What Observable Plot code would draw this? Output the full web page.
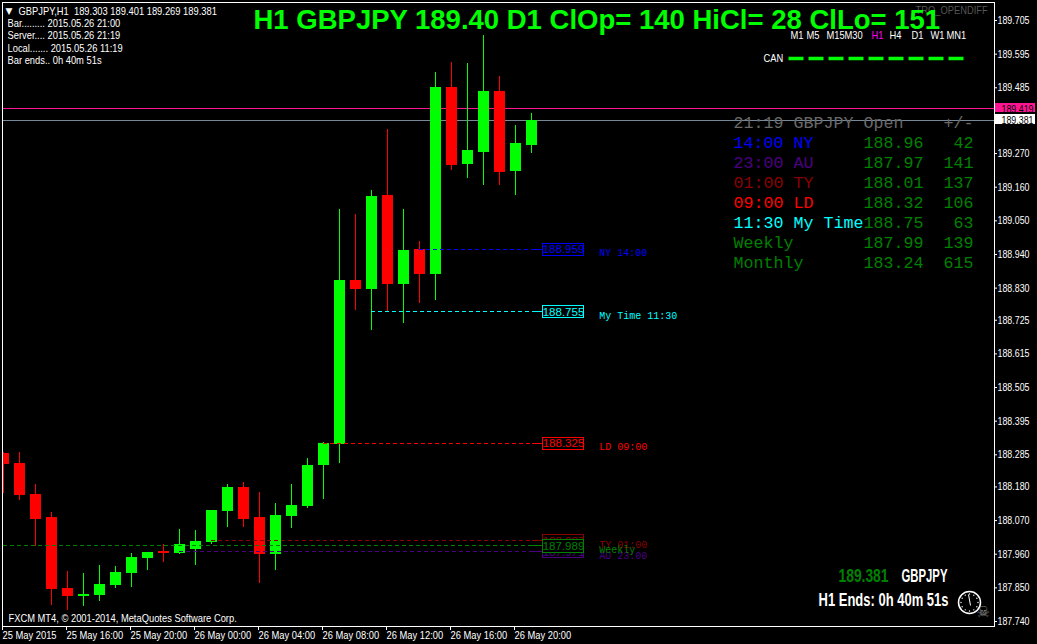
<!DOCTYPE html>
<html><head><meta charset="utf-8">
<script src="https://cdn.jsdelivr.net/npm/d3@7"></script>
<script src="https://cdn.jsdelivr.net/npm/@observablehq/plot@0.6"></script>
<style>html,body{margin:0;padding:0;background:#000;overflow:hidden}svg{display:block}</style>
</head><body><div id="chart"></div>
<script>
// candles, one bar per hour
const opens  = [188.289,188.256,188.155,188.080,187.848,187.822,187.825,187.858,187.897,187.946,187.969,187.962,187.975,187.998,188.100,188.178,188.080,187.959,188.083,188.116,188.250,188.319,188.855,188.825,189.133,188.842,188.956,188.874,189.486,189.234,189.273,189.473,189.211,189.297];
const highs  = [188.292,188.292,188.188,188.096,187.903,187.897,187.923,187.920,187.962,187.965,187.992,188.041,188.037,188.103,188.188,188.194,188.162,188.126,188.188,188.273,188.325,189.087,189.070,189.149,189.348,189.087,188.982,189.535,189.568,189.564,189.656,189.522,189.361,189.401];
const lows   = [188.158,188.135,187.985,187.792,187.776,187.789,187.805,187.848,187.851,187.907,187.933,187.959,187.923,187.992,188.047,188.047,187.864,187.907,188.044,188.109,188.139,188.256,188.757,188.691,188.753,188.714,188.779,188.789,189.214,189.188,189.165,189.165,189.133,189.269];
const closes = [188.253,188.152,188.073,187.845,187.822,187.828,187.861,187.900,187.949,187.965,187.962,187.992,188.001,188.103,188.178,188.073,187.959,188.086,188.119,188.250,188.322,188.855,188.825,189.129,188.842,188.953,188.874,189.486,189.231,189.280,189.473,189.208,189.303,189.378];
const candles = opens.map((o,i)=>({i,o,h:highs[i],l:lows[i],c:closes[i]}));

const yTicks = [189.705,189.595,189.485,189.270,189.160,189.050,188.940,188.830,188.725,188.615,188.505,188.395,188.285,188.180,188.070,187.960,187.850,187.740];
const xTickBars = [0,4,8,12,16,20,24,28,32];
const xLabels = ["25 May 2015","25 May 16:00","25 May 20:00","26 May 00:00","26 May 04:00","26 May 08:00","26 May 12:00","26 May 16:00","26 May 20:00"];

// session open levels
const levelNames  = ["LD 09:00","My Time 11:30","NY 14:00","TY 01:00","AU 23:00","Weekly"];
const levelValues = [188.325,188.755,188.959,188.007,187.971,187.989];
const levelBars   = [20,23,26,13,11,0];
const levelColors = ["#ff0000","#00ffff","#0000ff","#8b0000","#4b0082","#008000"];

// price tags on the axis
const askBid = [189.419,189.381];

// table
const rowNames = ["14:00 NY","23:00 AU","01:00 TY","09:00 LD","11:30 My Time","Weekly","Monthly"];
const rowOpens = ["188.96","187.97","188.01","188.32","188.75","187.99","183.24"];
const rowDiffs = ["42","141","137","106","63","139","615"];
const rowColors = ["#0000ff","#4b0082","#8b0000","#ff0000","#00ffff","#008000","#008000"];
const valueGreen = "#008000";

const infoLines = ["Bar......... 2015.05.26 21:00","Server.... 2015.05.26 21:19","Local....... 2015.05.26 11:19","Bar ends.. 0h 40m 51s"];
const tfLabels = ["M1","M5","M15","M30","H1","H4","D1","W1","MN1"];
const tfLeft   = [790,806,826,844,871,889,911,930,946];

// widths of the tall condensed captions, which no installed font has natively
const captionWidths = {"189.381":50,"GBPJPY":46,"H1 Ends: 0h 40m 51s":130};

const SANS = "'DejaVu Sans'", UI = "'Liberation Sans'", MONO = "'Liberation Mono'";
const px = v => ({value:[v], scale:null});
const label = (s, x, y, o={}) => Plot.text([s], {text:d=>d, x:px(x), y:px(y), textAnchor:"start", lineAnchor:"middle", fill:"white", fontFamily:UI, fontSize:11, ...o});

const up = candles.filter(d=>d.c>=d.o), down = candles.filter(d=>d.c<d.o);
const candleMarks = (data,color) => [
  Plot.ruleX(data,{x:"i",y1:"l",y2:"h",stroke:color,strokeWidth:1,clip:true,shapeRendering:"crispEdges"}),
  Plot.ruleX(data,{x:"i",y1:"o",y2:"c",stroke:color,strokeWidth:11,clip:true,shapeRendering:"crispEdges"})
];

const boxLeft = 33.69, boxRight = 36.31, levelEnd = 33.06, nameBar = 37.23;
const levelMarks = levelValues.map((v,k)=>{
  const d=[v], color=levelColors[k];
  return [
    Plot.ruleY(d,{y:y=>y,x1:()=>levelBars[k],x2:()=>boxLeft,stroke:color,strokeDasharray:"4,3",dy:0.5,shapeRendering:"crispEdges"}),
    Plot.ruleY(d,{y:y=>y,x1:()=>levelEnd,x2:()=>boxLeft,stroke:color,dy:0.5,shapeRendering:"crispEdges"}),
    Plot.rect(d,{x1:()=>boxLeft,x2:()=>boxRight,y1:y=>y+0.0165,y2:y=>y-0.0235,fill:"black",stroke:color,strokeWidth:1,shapeRendering:"crispEdges"}),
    Plot.text(d,{x:()=>(boxLeft+boxRight)/2,y:y=>y,dy:1,text:y=>y.toFixed(3),fill:color,fontFamily:UI,fontSize:11.5}),
  ];
});
const levelNameMarks = levelValues.map((v,k)=>
  Plot.text([v],{x:()=>nameBar,y:y=>y,dy:4.5,text:()=>levelNames[k],fill:levelColors[k],fontFamily:MONO,fontSize:10,textAnchor:"start"}));

const tableX=733, openX=863, diffX=973, rowY=142, rowStep=20;
const tableMarks = [
  label("21:19 GBPJPY Open",tableX,rowY-rowStep,{fontFamily:MONO,fontSize:16.67,fill:"#696969"}),
  label("+/-",diffX,rowY-rowStep,{fontFamily:MONO,fontSize:16.67,fill:"#696969",textAnchor:"end"}),
  ...rowNames.flatMap((s,k)=>[
    label(s,tableX,rowY+k*rowStep,{fontFamily:MONO,fontSize:16.67,fill:rowColors[k]}),
    label(rowOpens[k],openX,rowY+k*rowStep,{fontFamily:MONO,fontSize:16.67,fill:valueGreen}),
    label(rowDiffs[k],diffX,rowY+k*rowStep,{fontFamily:MONO,fontSize:16.67,fill:valueGreen,textAnchor:"end"}),
  ])
];

const clockX=969, clockY=602, clockR=11;
const hours=d3.range(12).map(h=>h*Math.PI/6);
const clock=[
  Plot.dot([0],{x:px(clockX),y:px(clockY),r:clockR,stroke:"white",fill:"none"}),
  Plot.dot(hours,{x:{value:h=>clockX+(clockR-2.5)*Math.sin(h),scale:null},y:{value:h=>clockY-(clockR-2.5)*Math.cos(h),scale:null},r:0.7,fill:"white"}),
  Plot.link([0],{x1:px(970),y1:px(605),x2:px(968),y2:px(594),stroke:"white"}),
];

const chart = Plot.plot({
  width:1037, height:644,
  marginLeft:2, marginTop:2, marginRight:43, marginBottom:18,
  style:{background:"#000",color:"white"},
  x:{domain:[0,64],range:[3,1027]},
  y:{domain:[187.740,189.705],range:[621,20]},
  marks:[
    label("TRO_OPENDIFF",915,10,{fill:"#555"}),
    Plot.ruleY(askBid,{y:d=>d,stroke:(d,i)=>i===0?"#ff1493":"#778899",shapeRendering:"crispEdges",dy:0.5}),
    ...candleMarks(up,"#00ff00"),
    ...candleMarks(down,"#ff0000"),
    ...levelMarks, ...levelNameMarks,
    Plot.frame({stroke:"white",shapeRendering:"crispEdges"}),
    Plot.axisY(yTicks,{anchor:"right",tickSize:2,tickPadding:1,label:null,tickFormat:d=>d.toFixed(3),fontFamily:UI,fontSize:11,color:"white"}),
    Plot.axisX(xTickBars,{anchor:"bottom",tickSize:4,tickPadding:1,label:null,tickFormat:d=>xLabels[d/4],textAnchor:"start",dx:-1,fontFamily:UI,fontSize:11,color:"white"}),
    Plot.rect([askBid[0]],{x1:()=>62.03,x2:()=>64.5,y1:y=>y+0.0155,y2:y=>y-0.016,fill:"#ff1493",shapeRendering:"crispEdges"}),
    Plot.rect([askBid[1]],{x1:()=>62.03,x2:()=>64.5,y1:y=>y+0.016,y2:y=>y-0.017,fill:"white",shapeRendering:"crispEdges"}),
    Plot.text(askBid,{x:()=>62.375,y:y=>y,dy:1,text:y=>y.toFixed(3),fill:"black",textAnchor:"start",fontFamily:UI,fontSize:11}),
    label("H1 GBPJPY 189.40 D1 ClOp= 140 HiCl= 28 ClLo= 151",253,20,{fill:"#00ff00",fontSize:27.5,fontWeight:"bold"}),
    label("▼",5,11,{fontFamily:SANS,fontSize:9}),
    label("GBPJPY,H1  189.303 189.401 189.269 189.381",18,11),
    ...infoLines.map((s,k)=>label(s,7,23+12.3*k)),
    label("FXCM MT4, © 2001-2014, MetaQuotes Software Corp.",8,618),
    ...tfLabels.map((s,k)=>label(s,tfLeft[k],35,{fill:s==="H1"?"#ff00ff":"white"})),
    label("CAN",763,58),
    Plot.link([0],{x1:px(788),x2:px(963),y1:px(58),y2:px(58),stroke:"#00ff00",strokeWidth:3.5,strokeDasharray:"15,5"}),
    ...tableMarks,
    label("189.381",838,575.5,{fill:valueGreen,fontSize:18,fontWeight:"bold"}),
    label("GBPJPY",901,575.5,{fontSize:18,fontWeight:"bold"}),
    label("H1 Ends: 0h 40m 51s",818,600,{fontSize:18,fontWeight:"bold"}),
    ...clock,
    label("☠",976,612,{fontFamily:SANS,fontSize:15,fill:"#888"}),
  ]
});
document.getElementById("chart").append(chart);

// The reference uses narrow bitmap faces: fit the Liberation text to the same widths.
d3.select(chart).selectAll("text").each(function(){
  const cs=getComputedStyle(this), size=parseFloat(cs.fontSize), s=this.textContent;
  if (/Mono|DejaVu/.test(cs.fontFamily) || size>20 || size===11.5) return;
  let w;
  if (size===18) w=captionWidths[s];
  else if (/^\d{3}\.\d{3}$/.test(s)) w=32;
  else w=this.getComputedTextLength()*0.85;
  this.setAttribute("textLength",w);
  this.setAttribute("lengthAdjust","spacingAndGlyphs");
});
</script></body></html>
